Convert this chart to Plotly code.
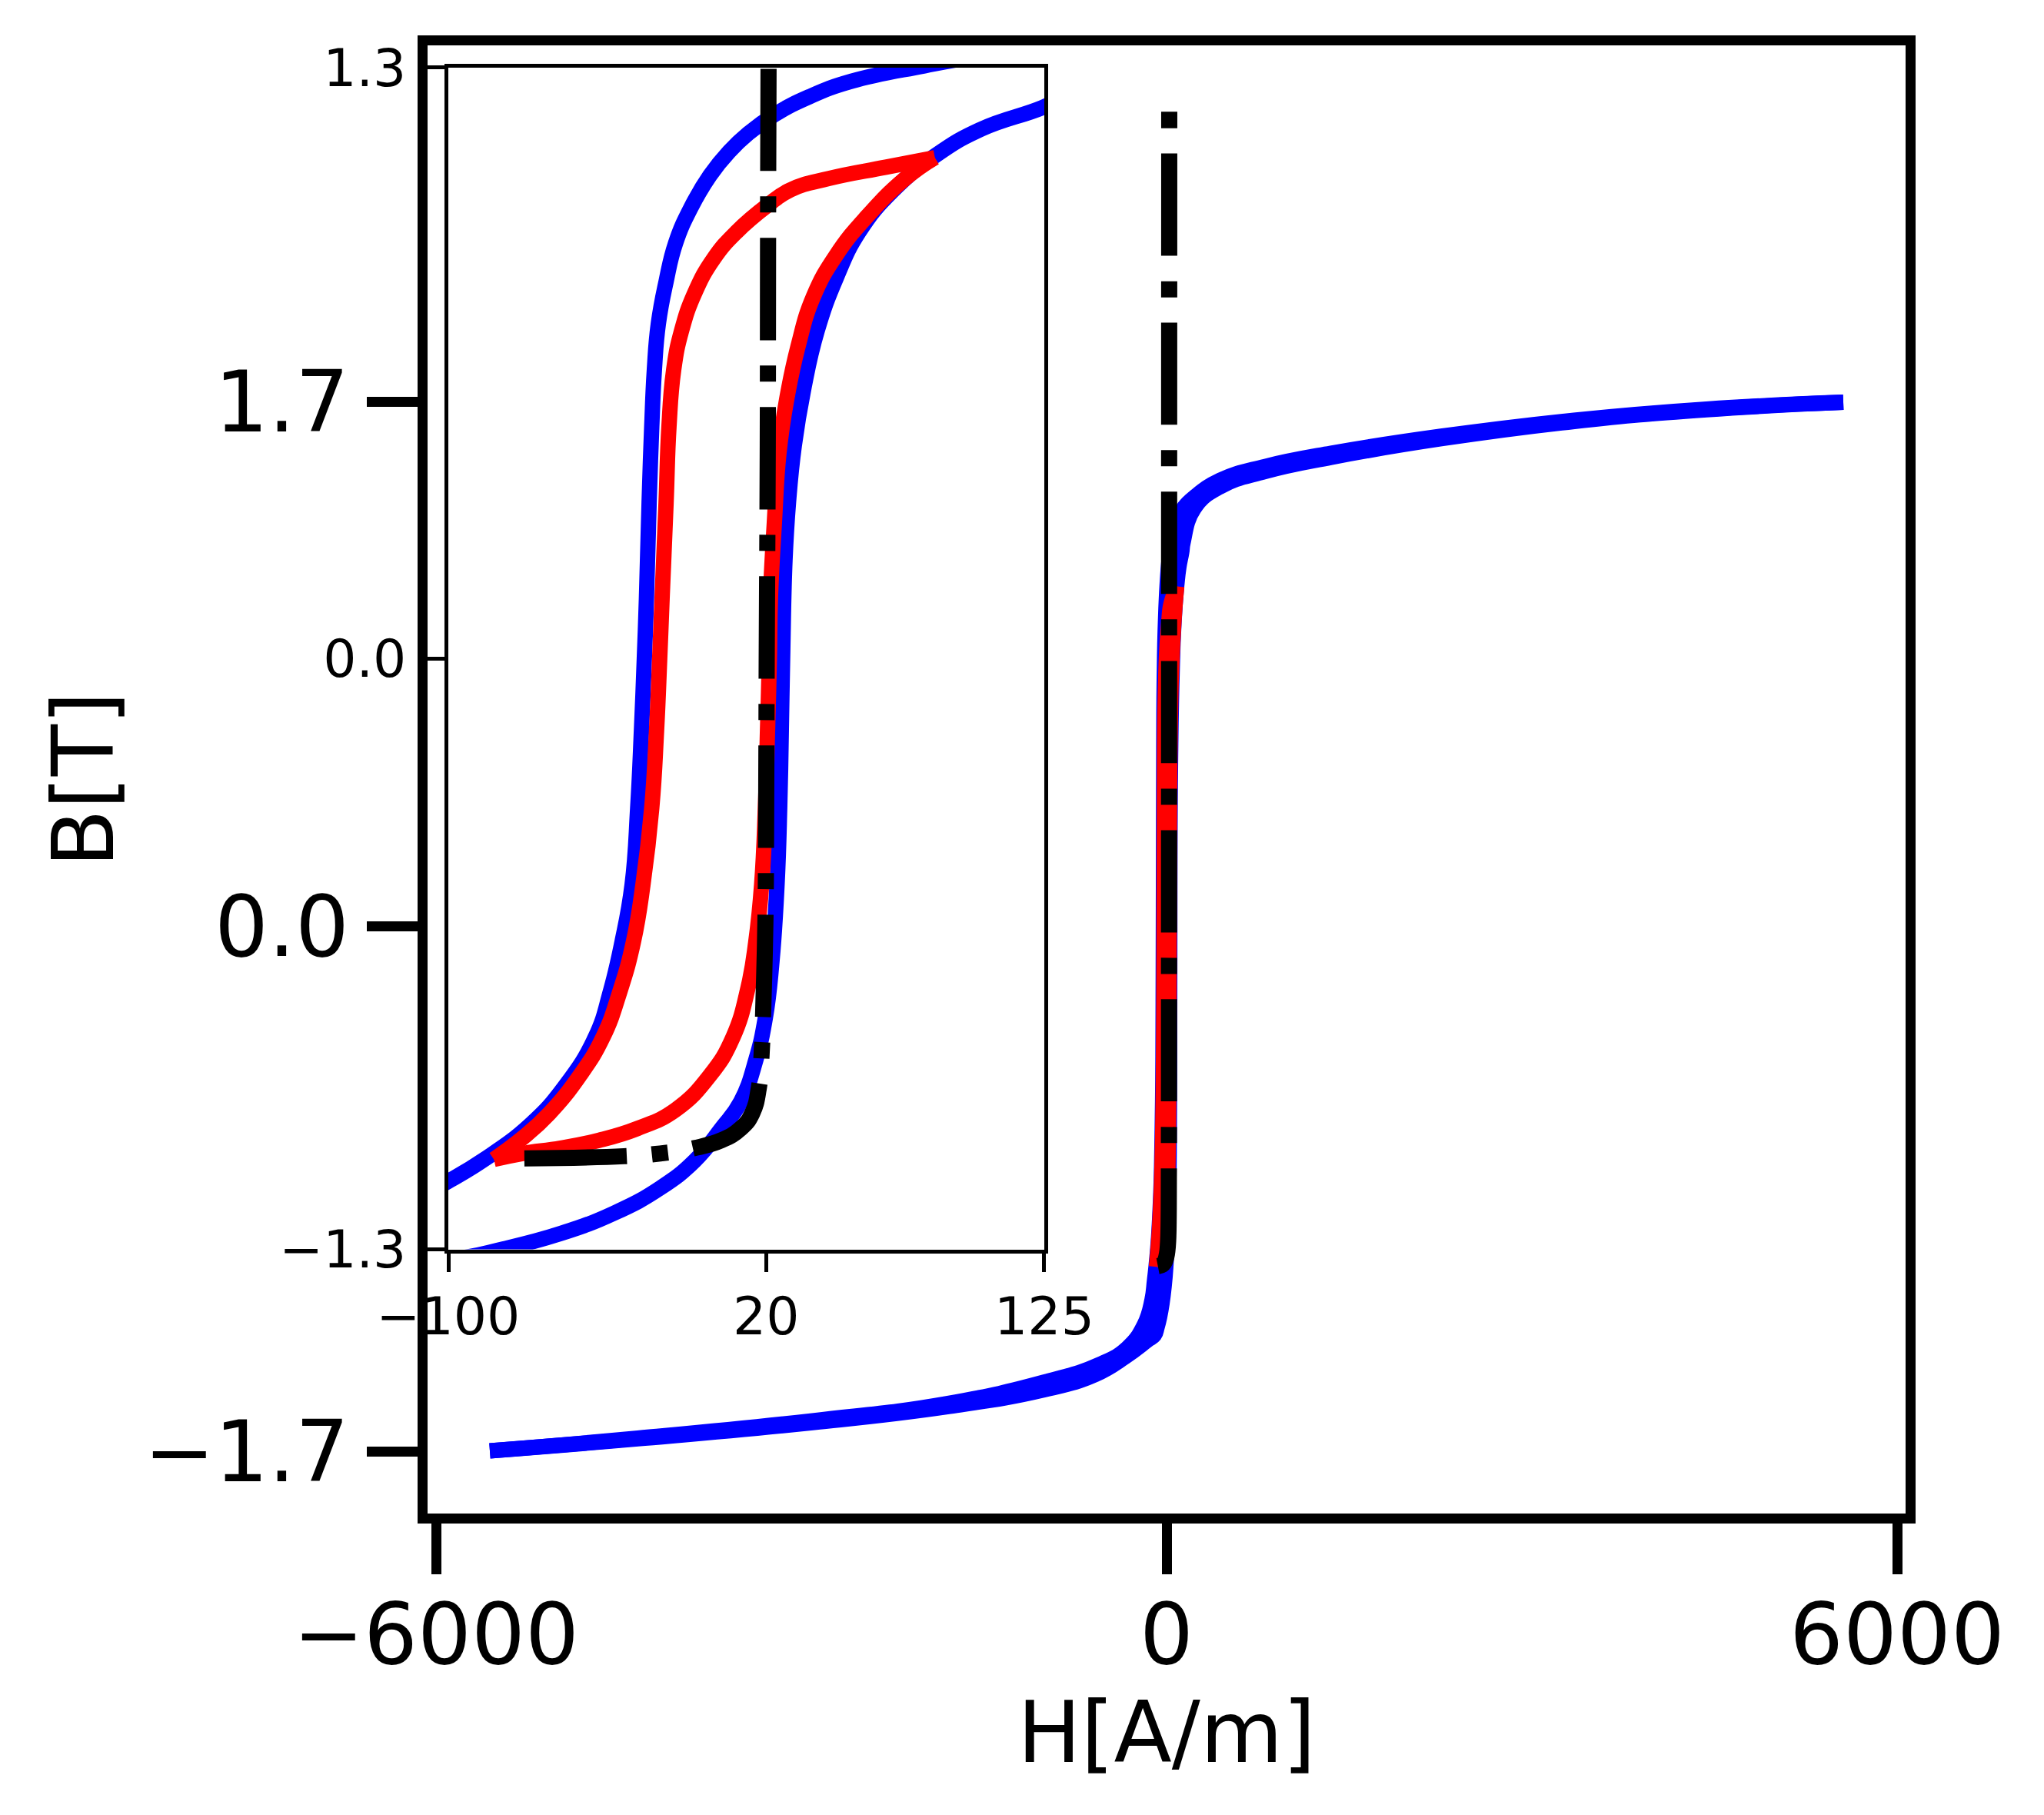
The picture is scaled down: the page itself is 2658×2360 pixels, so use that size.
import plotly.graph_objects as go

# major loop, descending branch: H [A/m], B [T]
h_down = [5558, 4434, 3347, 2255, 1352, 808, 442, 227, 145, 100, 79.7, 52.2, 36.3, 23.3,
          13.2, 6.0, -1.2, -8.4, -14.2, -17.8, -20.7, -22.2, -23.2, -24.2, -25.2, -26.0,
          -27.1, -28.5, -30.6, -34.4, -38.8, -44.5, -56.1, -69.1, -86.4, -99.4, -120,
          -183, -322, -549, -1000, -1803, -2893, -4342, -5558]
b_down = [1.698, 1.676, 1.640, 1.588, 1.533, 1.490, 1.446, 1.390, 1.358, 1.325, 1.304,
          1.270, 1.236, 1.197, 1.155, 1.115, 1.063, 0.992, 0.914, 0.829, 0.737, 0.636,
          0.510, 0.342, 0.132, 0.0, -0.160, -0.329, -0.497, -0.623, -0.732, -0.833,
          -0.942, -1.026, -1.102, -1.148, -1.210, -1.290, -1.365, -1.418, -1.475,
          -1.545, -1.600, -1.657, -1.698]

# major loop, ascending branch
h_up = [-5558, -4342, -2893, -1803, -1004, -587, -335, -158, -100, -79.2, -57.5, -37.3,
        -20.0, -7.0, 3.1, 10.4, 16.1, 19.7, 22.2, 24.1, 25.1, 25.7, 26.2, 27.1, 28.4,
        30.6, 34.2, 39.2, 46.5, 55.1, 68.1, 84.0, 101.3, 124.2, 136, 227, 442, 808,
        1352, 2255, 3347, 4434, 5558]
b_up = [-1.698, -1.659, -1.606, -1.555, -1.500, -1.451, -1.392, -1.340, -1.323, -1.299,
        -1.265, -1.220, -1.165, -1.105, -1.034, -0.975, -0.883, -0.790, -0.665, -0.497,
        -0.329, -0.160, 0.0, 0.216, 0.342, 0.468, 0.594, 0.720, 0.838, 0.939, 1.031,
        1.107, 1.165, 1.212, 1.245, 1.355, 1.425, 1.474, 1.520, 1.580, 1.636, 1.674,
        1.698]

# minor loop, upper branch
h_minor_dn = [83.7, 65.2, 43.6, 29.1, 20.5, 8.9, 0.2, -7.0, -12.0, -14.9, -16.7, -17.8,
              -19.3, -20.2, -21.4, -23.2, -26.5, -30.1, -35.2, -41.6, -50.3, -61.9,
              -72.0, -82.8]
b_minor_dn = [1.102, 1.081, 1.056, 1.031, 0.997, 0.939, 0.880, 0.804, 0.720, 0.636,
              0.510, 0.342, 0.132, 0.0, -0.160, -0.329, -0.497, -0.623, -0.732, -0.833,
              -0.917, -1.001, -1.055, -1.102]

# minor loop, lower branch
h_minor_up = [-82.8, -72.0, -57.5, -43.1, -28.6, -14.2, -1.2, 7.5, 13.2, 16.1, 18.3,
              19.7, 20.5, 21.2, 21.6, 23.1, 24.8, 27.7, 32.0, 37.8, 46.5, 58.0, 72.5,
              83.7]
b_minor_up = [-1.102, -1.089, -1.077, -1.060, -1.034, -0.993, -0.917, -0.833, -0.723,
              -0.623, -0.497, -0.329, -0.160, 0.0, 0.132, 0.300, 0.451, 0.569, 0.686,
              0.796, 0.888, 0.972, 1.056, 1.102]

# dash-dot curve
h_init = [-71.3, -33.7, -20.0, -7.0, 3.1, 10.4, 14.7, 17.3, 18.3, 19.0, 19.7, 20.0,
          20.2, 20.6, 20.7, 20.9, 21.5, 22.0]
b_init = [-1.100, -1.095, -1.089, -1.077, -1.060, -1.034, -1.001, -0.942, -0.867,
          -0.749, -0.581, -0.329, 0.0, 0.468, 0.888, 1.308, 2.0, 2.645]

main_xticks = [-6000, 0, 6000]
main_xlabels = ["−6000", "0", "6000"]
main_yticks = [-1.7, 0.0, 1.7]
main_ylabels = ["−1.7", "0.0", "1.7"]
inset_xticks = [-100, 20, 125]
inset_xlabels = ["−100", "20", "125"]
inset_yticks = [-1.3, 0.0, 1.3]
inset_ylabels = ["−1.3", "0.0", "1.3"]

FONT = "DejaVu Sans"
dashdot = "133px,33px,21px,33px"

fig = go.Figure()

for xa, ya in [("x", "y"), ("x2", "y2")]:
    for hx, by in [(h_down, b_down), (h_up, b_up)]:
        fig.add_trace(go.Scatter(x=hx, y=by, mode="lines", xaxis=xa, yaxis=ya,
                                 line=dict(color="#0000ff", width=20, shape="spline",
                                           smoothing=1.3)))
    for hx, by in [(h_minor_dn, b_minor_dn), (h_minor_up, b_minor_up)]:
        fig.add_trace(go.Scatter(x=hx, y=by, mode="lines", xaxis=xa, yaxis=ya,
                                 line=dict(color="#ff0000", width=20, shape="spline",
                                           smoothing=1.3)))
    fig.add_trace(go.Scatter(x=h_init, y=b_init, mode="lines", xaxis=xa, yaxis=ya,
                             line=dict(color="black", width=21, dash=dashdot,
                                       shape="spline", smoothing=1.3)))

# page body has an 8px margin, so the figure is made 8px smaller than the window
fig.update_layout(
    width=2650, height=2352,
    margin=dict(l=548, r=180, t=48, b=392),
    paper_bgcolor="white", plot_bgcolor="white",
    showlegend=False,
    font=dict(family=FONT, color="black"),
    xaxis=dict(range=[-6069.5, 6069.5], tickvals=main_xticks, ticktext=main_xlabels,
               showline=True, linewidth=13, linecolor="black", mirror=True,
               ticks="outside", ticklen=66, tickwidth=13, tickcolor="black",
               tickfont=dict(size=110, family=FONT), showgrid=False, zeroline=False,
               ticklabelstandoff=-16,
               title=dict(text="H[A/m]", font=dict(size=110, family=FONT), standoff=26)),
    yaxis=dict(range=[-1.901, 2.854], tickvals=main_yticks, ticktext=main_ylabels,
               showline=True, linewidth=13, linecolor="black", mirror=True,
               ticks="outside", ticklen=66, tickwidth=13, tickcolor="black",
               tickfont=dict(size=110, family=FONT), showgrid=False, zeroline=False,
               ticklabelstandoff=1,
               title=dict(text="B[T]", font=dict(size=110, family=FONT), standoff=8)),
    xaxis2=dict(domain=[0.01405, 0.41727], anchor="y2", range=[-100, 125],
                tickvals=inset_xticks, ticktext=inset_xlabels,
                showline=True, linewidth=5, linecolor="black", mirror=True,
                ticks="outside", ticklen=24, tickwidth=5, tickcolor="black",
                tickfont=dict(size=68, family=FONT), showgrid=False, zeroline=False),
    yaxis2=dict(domain=[0.17992, 0.98483], anchor="x2", range=[-1.3, 1.3],
                tickvals=inset_yticks, ticktext=inset_ylabels,
                showline=True, linewidth=5, linecolor="black", mirror=True,
                ticks="outside", ticklen=24, tickwidth=5, tickcolor="black",
                tickfont=dict(size=68, family=FONT), showgrid=False, zeroline=False,
                ticklabelstandoff=12),
)

fig.write_html("out.html")
